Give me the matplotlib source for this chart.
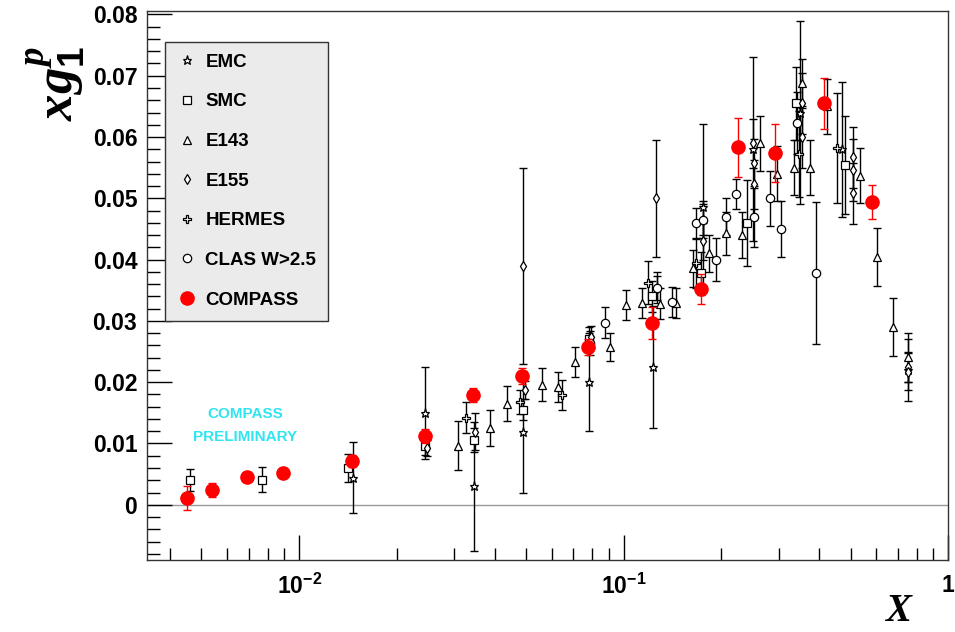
import numpy as np
import matplotlib
matplotlib.use("Agg")
import matplotlib.pyplot as plt
from matplotlib import font_manager
from matplotlib.ticker import FixedLocator, NullFormatter, MultipleLocator, LogLocator

# ---- data: (x, xg1p, error) ----
emc_x = [0.0147, 0.0245, 0.0345, 0.049, 0.078, 0.123, 0.175, 0.25, 0.35, 0.47, 0.75]
emc_y = [0.0044, 0.0150, 0.0030, 0.0119, 0.0200, 0.0225, 0.0486, 0.0580, 0.0640, 0.0580, 0.0220]
emc_e = [0.0058, 0.0075, 0.0105, 0.0100, 0.0080, 0.0100, 0.0135, 0.0150, 0.0150, 0.0110, 0.0050]

smc_x = [0.0046, 0.0077, 0.0141, 0.0245, 0.0345, 0.049, 0.078, 0.122, 0.173, 0.24, 0.34, 0.48]
smc_y = [0.0040, 0.0041, 0.0060, 0.0096, 0.0106, 0.0155, 0.0270, 0.0340, 0.0378, 0.0460, 0.0655, 0.0554]
smc_e = [0.0018, 0.0020, 0.0023, 0.0015, 0.0020, 0.0017, 0.0020, 0.0025, 0.0035, 0.0070, 0.0060, 0.0080]

e143_x = [0.0308, 0.0387, 0.0438, 0.0561, 0.0629, 0.071, 0.0905, 0.1014, 0.1137, 0.129,
          0.145, 0.1636, 0.183, 0.207, 0.232, 0.262, 0.296, 0.334, 0.353, 0.374,
          0.422, 0.534, 0.603, 0.676, 0.75]
e143_y = [0.0096, 0.0125, 0.0165, 0.0196, 0.0192, 0.0233, 0.0258, 0.0326, 0.0329, 0.0328,
          0.0329, 0.0386, 0.0410, 0.0443, 0.0440, 0.0590, 0.0540, 0.0550, 0.0688, 0.0550,
          0.0650, 0.0537, 0.0404, 0.0290, 0.0241]
e143_e = [0.0040, 0.0029, 0.0028, 0.0027, 0.0025, 0.0025, 0.0023, 0.0024, 0.0025, 0.0025,
          0.0025, 0.0030, 0.0030, 0.0035, 0.0037, 0.0045, 0.0045, 0.0045, 0.0040, 0.0045,
          0.0045, 0.0045, 0.0047, 0.0048, 0.0040]

e155_x = [0.0247, 0.0348, 0.049, 0.0497, 0.079, 0.1257, 0.127, 0.176, 0.176, 0.251,
          0.252, 0.252, 0.353, 0.353, 0.508, 0.508, 0.508, 0.75, 0.75]
e155_y = [0.0093, 0.0119, 0.0390, 0.0187, 0.0274, 0.0500, 0.0354, 0.0465, 0.0430, 0.0590,
          0.0557, 0.0523, 0.0655, 0.0600, 0.0567, 0.0546, 0.0508, 0.0225, 0.0217]
e155_e = [0.0013, 0.0030, 0.0160, 0.0015, 0.0018, 0.0095, 0.0020, 0.0025, 0.0030, 0.0040,
          0.0040, 0.0040, 0.0050, 0.0050, 0.0050, 0.0050, 0.0050, 0.0025, 0.0030]

hermes_x = [0.0327, 0.048, 0.0647, 0.1186, 0.167, 0.346, 0.453]
hermes_y = [0.0142, 0.0168, 0.0179, 0.0362, 0.0394, 0.0572, 0.0582]
hermes_e = [0.0025, 0.0020, 0.0025, 0.0035, 0.0040, 0.0070, 0.0090]

clas_x = [0.0785, 0.0874, 0.127, 0.141, 0.167, 0.176, 0.193, 0.207, 0.221, 0.252,
          0.283, 0.306, 0.341, 0.39]
clas_y = [0.0264, 0.0297, 0.0354, 0.0331, 0.0460, 0.0465, 0.0400, 0.0470, 0.0507, 0.0470,
          0.0500, 0.0450, 0.0623, 0.0378]
clas_e = [0.0020, 0.0025, 0.0025, 0.0025, 0.0025, 0.0030, 0.0035, 0.0030, 0.0025, 0.0050,
          0.0045, 0.0045, 0.0050, 0.0116]

compass_x = [0.0045, 0.0054, 0.0069, 0.0089, 0.0145, 0.0245, 0.0344, 0.0487, 0.0774,
             0.122, 0.173, 0.225, 0.293, 0.413, 0.582]
compass_y = [0.0011, 0.0024, 0.0046, 0.0052, 0.0072, 0.0112, 0.0179, 0.0210, 0.0257,
             0.0297, 0.0352, 0.0583, 0.0574, 0.0655, 0.0494]
compass_e = [0.0020, 0.0012, 0.0008, 0.0008, 0.0010, 0.0011, 0.0012, 0.0013, 0.0013,
             0.0026, 0.0025, 0.0048, 0.0048, 0.0042, 0.0028]

names = [f.name for f in font_manager.fontManager.ttflist]
sans = "Liberation Sans" if "Liberation Sans" in names else "DejaVu Sans"
serif = "Liberation Serif" if "Liberation Serif" in names else "DejaVu Serif"
plt.rcParams["font.family"] = [sans, "DejaVu Sans"]
plt.rcParams["font.weight"] = "bold"
plt.rcParams["mathtext.fontset"] = "custom"
plt.rcParams["mathtext.bf"] = sans + ":bold"
plt.rcParams["mathtext.rm"] = sans + ":bold"
plt.rcParams["mathtext.it"] = serif + ":italic:bold"

fig = plt.figure(figsize=(9.55, 6.32), dpi=100)
ax = fig.add_axes([0.154, 0.114, 0.839, 0.868])

ax.axhline(0, color="#999999", lw=1, zorder=1)

sets = [
    (emc_x, emc_y, emc_e, "*", 6.5, "EMC"),
    (smc_x, smc_y, smc_e, "s", 5.5, "SMC"),
    (e143_x, e143_y, e143_e, "^", 6, "E143"),
    (e155_x, e155_y, e155_e, "d", 5, "E155"),
    (hermes_x, hermes_y, hermes_e, "P", 6, "HERMES"),
    (clas_x, clas_y, clas_e, "o", 6, "CLAS W>2.5"),
]
handles = []
for x, y, e, m, ms, lab in sets:
    ax.errorbar(x, y, yerr=e, fmt="none", ecolor="black", elinewidth=1.0,
                capsize=3, capthick=1.0, zorder=2)
    h, = ax.plot(x, y, ls="none", marker=m, ms=ms, mfc="white", mec="black",
                 mew=0.9, zorder=3, label=lab)
    handles.append(h)

ax.errorbar(compass_x, compass_y, yerr=compass_e, fmt="none", ecolor="red",
            elinewidth=1.0, capsize=3, capthick=1.0, zorder=4)
h, = ax.plot(compass_x, compass_y, ls="none", marker="o", ms=9.5, color="red",
             mec="red", zorder=5, label="COMPASS")
handles.append(h)

ax.set_xscale("log")
ax.set_xlim(0.0034, 1.0)
ax.set_ylim(-0.009, 0.0805)

ax.xaxis.set_major_locator(FixedLocator([0.01, 0.1, 1.0]))
ax.xaxis.set_minor_locator(LogLocator(base=10, subs=np.arange(2, 10)))
ax.xaxis.set_minor_formatter(NullFormatter())
ax.set_xticklabels([r"$\mathbf{10^{-2}}$", r"$\mathbf{10^{-1}}$", r"$\mathbf{1}$"])
ax.yaxis.set_major_locator(MultipleLocator(0.01))
ax.yaxis.set_minor_locator(MultipleLocator(0.002))
ax.yaxis.set_major_formatter(matplotlib.ticker.FuncFormatter(
    lambda v, p: "0" if abs(v) < 1e-9 else f"{v:.2f}"))

ax.tick_params(which="major", direction="in", length=18, width=1.0,
               labelsize=16.5, top=False, right=False)
ax.tick_params(which="minor", direction="in", length=9, width=1.0,
               top=False, right=False)
ax.tick_params(axis="y", pad=7)
ax.tick_params(axis="x", pad=10)
for s in ax.spines.values():
    s.set_linewidth(1.0)
    s.set_color("#333333")

fig.text(900 / 955, 1 - 611 / 632, r"$\mathit{X}$", fontsize=28,
         ha="center", va="center")
fig.text(56 / 955, 1 - 84 / 632, r"$\mathit{xg}_{\mathit{1}}^{\mathit{p}}$",
         fontsize=38, rotation=90, ha="center", va="center")

ax.text(0.0068, 0.0148, "COMPASS", color="#30e4f0", fontsize=11,
        fontweight="bold", ha="center", va="center")
ax.text(0.0068, 0.0110, "PRELIMINARY", color="#30e4f0", fontsize=11,
        fontweight="bold", ha="center", va="center")

leg = ax.legend(handles=handles, loc="upper left", bbox_to_anchor=(0.0225, 0.945),
                borderaxespad=0, frameon=True, fancybox=False, fontsize=13.5,
                labelspacing=1.2, handlelength=1.0, handletextpad=0.5,
                borderpad=0.65, numpoints=1)
leg.get_frame().set_facecolor("#ebebeb")
leg.get_frame().set_edgecolor("#333333")
leg.get_frame().set_linewidth(1.0)
leg.get_frame().set_alpha(1.0)

fig.savefig("out.png", dpi=100)
